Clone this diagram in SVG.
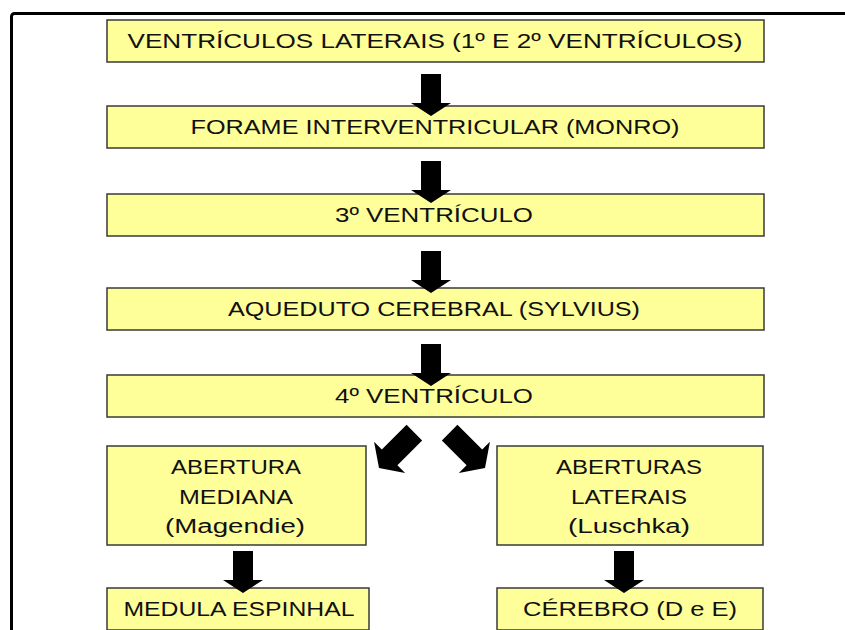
<svg xmlns="http://www.w3.org/2000/svg" width="845" height="630" viewBox="0 0 845 630">
<style>
.box{fill:#FFFF99;stroke:#3a3a3a;stroke-width:1.5}
.t{font-family:"Liberation Sans","DejaVu Sans",sans-serif;font-size:20px;fill:#111;text-anchor:middle}
.arr{fill:#000}
</style>
<defs>
<path id="ar" d="M-10,-42 H10 V-13 H20 L0,0 L-20,-13 H-10 Z"/>
<path id="ard" d="M-11,-50 H11 V-15 H22 L0,0 L-22,-15 H-11 Z"/>
</defs>
<rect width="845" height="630" fill="#fff"/>
<rect x="11.5" y="13.5" width="900" height="700" rx="3" fill="none" stroke="#000" stroke-width="3"/>
<g id="n1"><rect class="box" x="107" y="20" width="657" height="42"/><text class="t" x="435" y="48" textLength="615" lengthAdjust="spacingAndGlyphs">VENTRÍCULOS LATERAIS (1º E 2º VENTRÍCULOS)</text></g>
<g id="n2"><rect class="box" x="107" y="106" width="657" height="42"/><text class="t" x="435" y="134" textLength="489" lengthAdjust="spacingAndGlyphs">FORAME INTERVENTRICULAR (MONRO)</text></g>
<g id="n3"><rect class="box" x="107" y="194" width="657" height="42"/><text class="t" x="434" y="222" textLength="198" lengthAdjust="spacingAndGlyphs">3º VENTRÍCULO</text></g>
<g id="n4"><rect class="box" x="107" y="288" width="657" height="42"/><text class="t" x="434" y="316" textLength="412" lengthAdjust="spacingAndGlyphs">AQUEDUTO CEREBRAL (SYLVIUS)</text></g>
<g id="n5"><rect class="box" x="107" y="375" width="657" height="42"/><text class="t" x="434" y="403" textLength="198" lengthAdjust="spacingAndGlyphs">4º VENTRÍCULO</text></g>
<g id="n6"><rect class="box" x="107" y="446" width="259" height="99"/>
<text class="t" x="236" y="474" textLength="130" lengthAdjust="spacingAndGlyphs">ABERTURA</text>
<text class="t" x="236" y="504" textLength="114" lengthAdjust="spacingAndGlyphs">MEDIANA</text>
<text class="t" x="235" y="533" textLength="140" lengthAdjust="spacingAndGlyphs">(Magendie)</text></g>
<g id="n7"><rect class="box" x="497" y="446" width="266" height="99"/>
<text class="t" x="629" y="474" textLength="146" lengthAdjust="spacingAndGlyphs">ABERTURAS</text>
<text class="t" x="629" y="504" textLength="116" lengthAdjust="spacingAndGlyphs">LATERAIS</text>
<text class="t" x="629" y="533" textLength="122" lengthAdjust="spacingAndGlyphs">(Luschka)</text></g>
<g id="n8"><rect class="box" x="107" y="588" width="262" height="42"/><text class="t" x="239" y="616" textLength="231" lengthAdjust="spacingAndGlyphs">MEDULA ESPINHAL</text></g>
<g id="n9"><rect class="box" x="497" y="588" width="266" height="42"/><text class="t" x="630" y="616" textLength="214" lengthAdjust="spacingAndGlyphs">CÉREBRO (D e E)</text></g>
<g id="connectors" class="arr">
<use href="#ar" transform="translate(431,116)"/>
<use href="#ar" transform="translate(431,203)"/>
<use href="#ar" transform="translate(431,293)"/>
<use href="#ar" transform="translate(431,386)"/>
<use href="#ard" transform="translate(379,468) rotate(45)"/>
<use href="#ard" transform="translate(485,468) rotate(-45)"/>
<use href="#ar" transform="translate(243,593)"/>
<use href="#ar" transform="translate(624,593)"/>
</g>
</svg>
